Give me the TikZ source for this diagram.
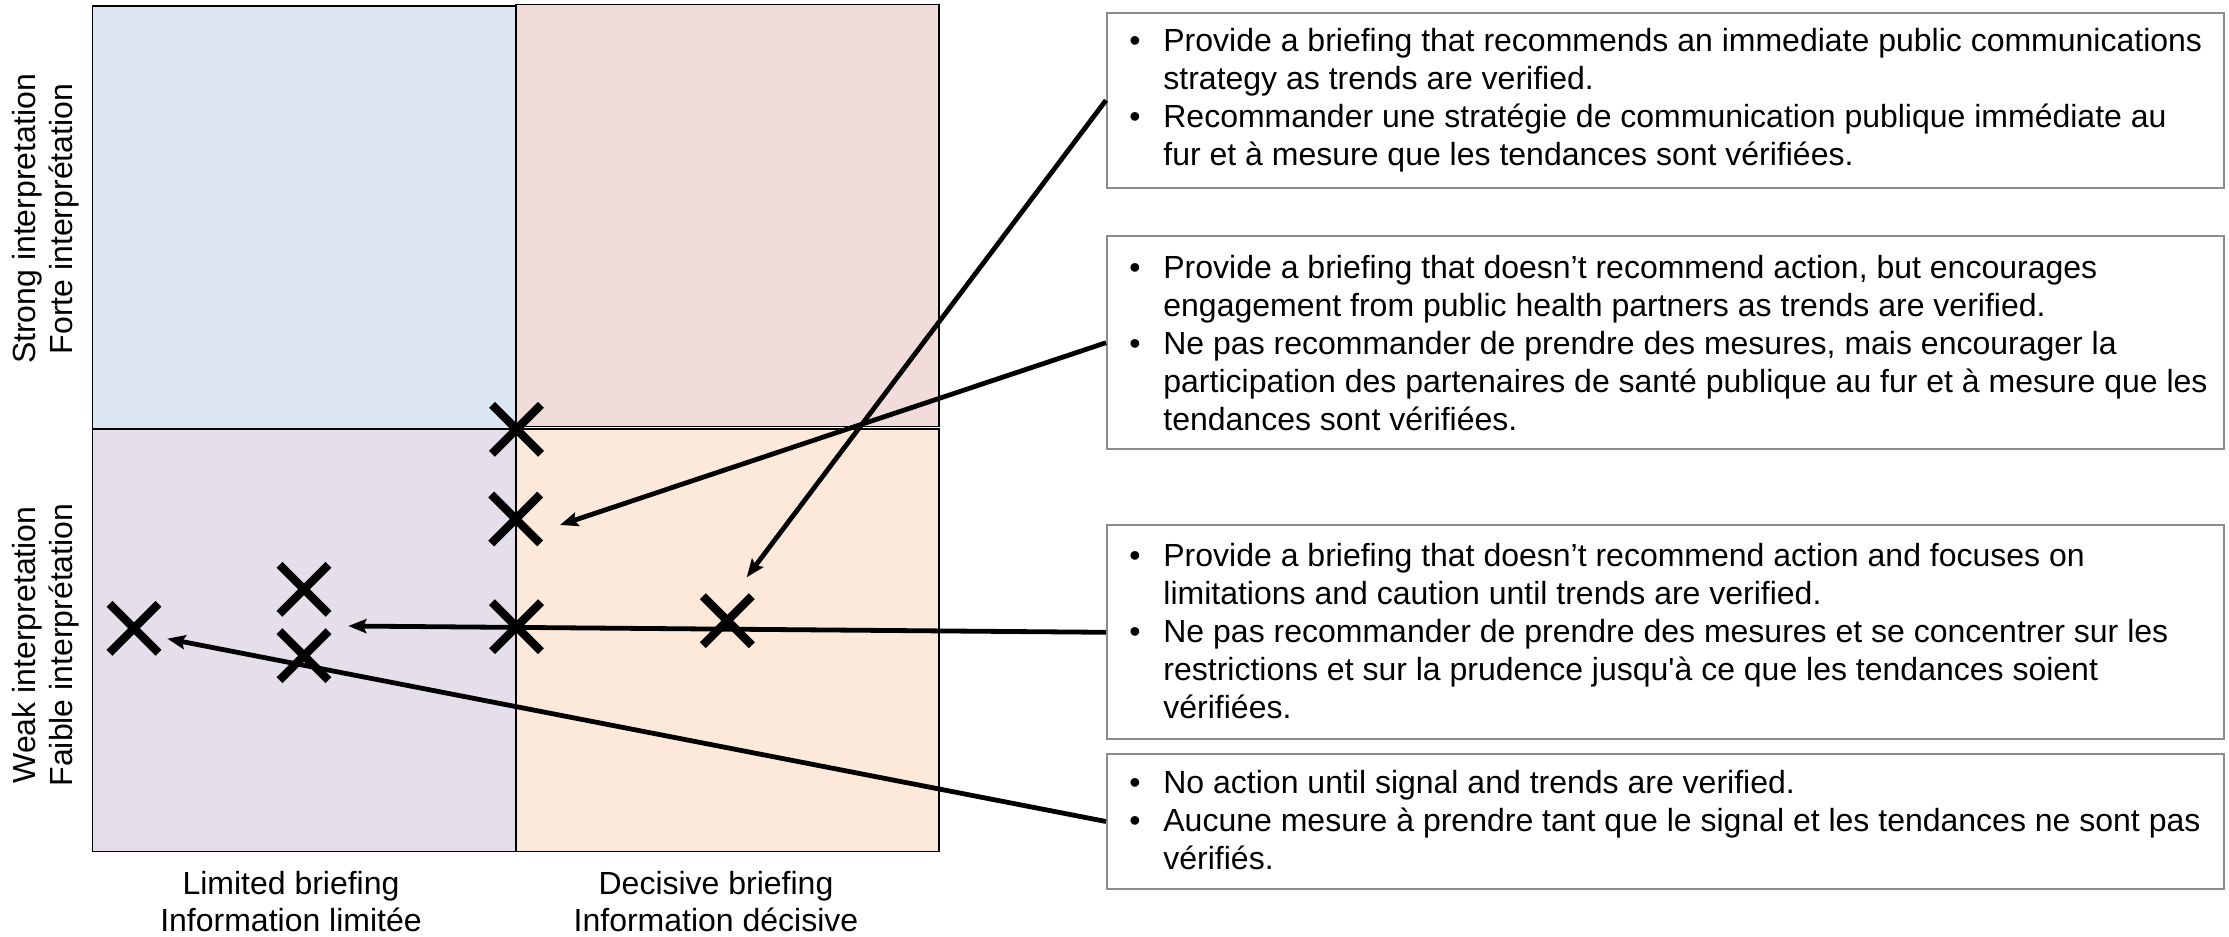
\documentclass[tikz,border=0pt]{standalone}
\usepackage{fontspec}
\setmainfont{Liberation Sans}
\usetikzlibrary{arrows.meta}
\definecolor{qblue}{HTML}{DCE6F2}
\definecolor{qpink}{HTML}{F2DCDB}
\definecolor{qlav}{HTML}{E5DFEC}
\definecolor{qpeach}{HTML}{FDE9D9}
\definecolor{boxgray}{HTML}{8C8C8C}
\newcommand{\bitem}{\makebox[17pt][l]{•}}
\newcommand{\bcont}{\hspace*{17pt}}
\tikzset{
  qline/.style={draw=black, line width=0.65pt},
  lab/.style={align=center, inner sep=0pt, font=\fontsize{16pt}{18.5pt}\selectfont},
  frame/.style={draw=boxgray, line width=1pt, fill=white, inner sep=0pt, anchor=north west, minimum width=558.5pt},
  btext/.style={align=left, inner sep=0pt, anchor=west, font=\fontsize{16pt}{19pt}\selectfont},
  arr/.style={line width=2.4pt, -{Stealth[length=9pt,width=7pt,inset=1.5pt]}},
  xmark/.pic={\draw[line width=4.2pt] (-24.5,-24.5) -- (24.5,24.5) (-24.5,24.5) -- (24.5,-24.5);}
}
\begin{document}
\begin{tikzpicture}[x=0.5pt,y=-0.5pt]
\useasboundingbox (0,0) rectangle (2229,937);
\fill[white] (0,0) rectangle (2229,937);

% quadrants
\draw[qline, fill=qblue]  (92.5,6)   rectangle (516,429);
\draw[qline, fill=qpink]  (516,4.5)  rectangle (939,426.5);
\draw[qline, fill=qlav]   (92.5,429) rectangle (516,851.3);
\draw[qline, fill=qpeach] (516,429)  rectangle (939,851.3);

% axis labels
\node[lab, rotate=90] (ystrong) at (46,219) {Strong interpretation\\Forte interprétation};
\node[lab, rotate=90] (yweak)   at (46,645) {Weak interpretation\\Faible interprétation};
\node[lab] (xlim) at (291,902) {Limited briefing\\Information limitée};
\node[lab] (xdec) at (716,902) {Decisive briefing\\Information décisive};

% boxes
\node[frame, minimum height=87.5pt]  (b1) at (1106,11.7) {};
\node[frame, minimum height=106.7pt] (b2) at (1106,235) {};
\node[frame, minimum height=107pt]   (b3) at (1106,524.3) {};
\node[frame, minimum height=67.8pt]  (b4) at (1106,752.7) {};

\node[btext] (t1) at ([xshift=11.5pt,yshift=0pt]b1.west) {%
\bitem Provide a briefing that recommends an immediate public communications\\
\bcont strategy as trends are verified.\\
\bitem Recommander une stratégie de communication publique immédiate au\\
\bcont fur et à mesure que les tendances sont vérifiées.};
\node[btext] (t2) at ([xshift=11.5pt,yshift=0pt]b2.west) {%
\bitem Provide a briefing that doesn’t recommend action, but encourages\\
\bcont engagement from public health partners as trends are verified.\\
\bitem Ne pas recommander de prendre des mesures, mais encourager la\\
\bcont participation des partenaires de santé publique au fur et à mesure que les\\
\bcont tendances sont vérifiées.};
\node[btext] (t3) at ([xshift=11.5pt,yshift=0.5pt]b3.west) {%
\bitem Provide a briefing that doesn’t recommend action and focuses on\\
\bcont limitations and caution until trends are verified.\\
\bitem Ne pas recommander de prendre des mesures et se concentrer sur les\\
\bcont restrictions et sur la prudence jusqu\textquotesingle à ce que les tendances soient\\
\bcont vérifiées.};
\node[btext] (t4) at ([xshift=11.5pt,yshift=0.5pt]b4.west) {%
\bitem No action until signal and trends are verified.\\
\bitem Aucune mesure à prendre tant que le signal et les tendances ne sont pas\\
\bcont vérifiés.};

% X marks
\coordinate (x1) at (516.5,429.3);
\coordinate (x2) at (515.7,519);
\coordinate (x3) at (516.5,626.7);
\coordinate (x4) at (727.3,620.7);
\coordinate (x5) at (304,589.3);
\coordinate (x6) at (304,655.7);
\coordinate (x7) at (134,628.3);

% arrow ends
\coordinate (eA) at (746.7,577.3);
\coordinate (eB) at (560,525);
\coordinate (eC) at (348.3,626);
\coordinate (eD) at (167.3,638.7);

\draw[arr] (b1.west) -- (eA);
\draw[arr] (b2.west) -- (eB);
\draw[arr] (b3.west) -- (eC);
\draw[arr] (b4.west) -- (eD);

\foreach \p in {x1,x2,x3,x4,x5,x6,x7} { \pic at (\p) {xmark}; }
\end{tikzpicture}
\end{document}
